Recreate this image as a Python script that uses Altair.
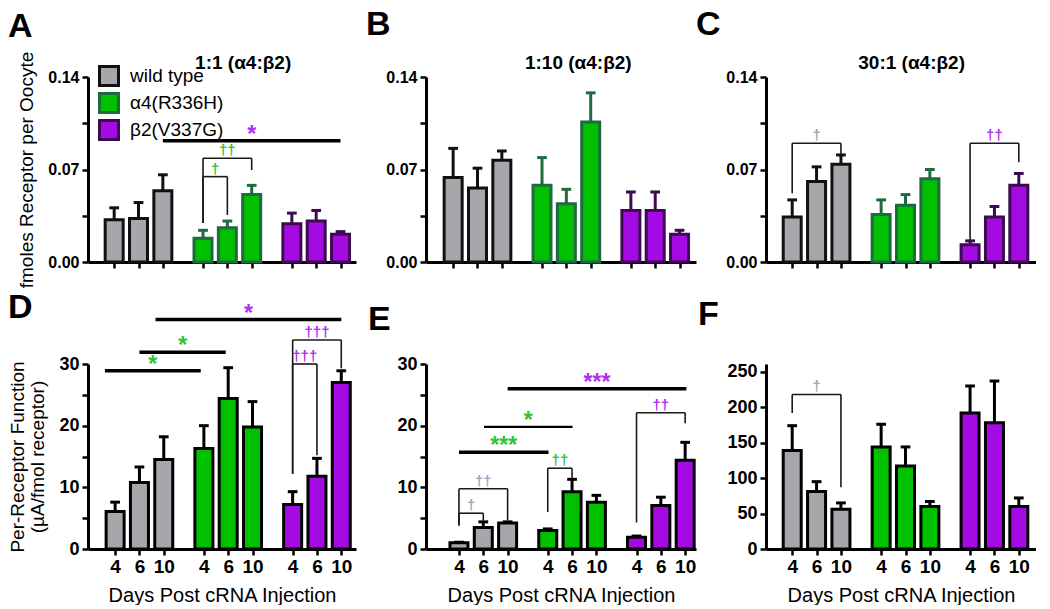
import altair as alt
import pandas as pd

FONT = "Liberation Sans"

genotypes = ["wild type", "α4(R336H)", "β2(V337G)"]
days = ["4", "6", "10"]

# means and SEM, order: wild type 4/6/10, α4(R336H) 4/6/10, β2(V337G) 4/6/10
A_mean = [0.032, 0.033, 0.054, 0.018, 0.026, 0.051, 0.029, 0.031, 0.021]
A_sem = [0.009, 0.012, 0.012, 0.006, 0.005, 0.007, 0.008, 0.008, 0.002]
B_mean = [0.064, 0.056, 0.077, 0.058, 0.044, 0.106, 0.039, 0.039, 0.021]
B_sem = [0.022, 0.015, 0.007, 0.021, 0.011, 0.022, 0.014, 0.014, 0.003]
C_mean = [0.034, 0.061, 0.074, 0.036, 0.043, 0.063, 0.013, 0.034, 0.058]
C_sem = [0.013, 0.011, 0.007, 0.011, 0.008, 0.007, 0.003, 0.008, 0.009]
D_mean = [6.1, 10.8, 14.5, 16.3, 24.4, 19.8, 7.2, 11.8, 27.0]
D_sem = [1.5, 2.5, 3.7, 3.7, 5.0, 4.1, 2.1, 2.9, 1.9]
E_mean = [1.0, 3.5, 4.2, 3.0, 9.3, 7.6, 1.9, 7.05, 14.4]
E_sem = [0.1, 0.9, 0.2, 0.25, 2.0, 1.1, 0.2, 1.35, 2.9]
F_mean = [139, 81, 56, 144, 117, 60, 192, 178, 60]
F_sem = [35, 14, 9, 32, 27, 7, 38, 59, 12]

ratio_titles = {"A": "1:1 (α4:β2)", "B": "1:10 (α4:β2)", "C": "30:1 (α4:β2)"}

# significance lines between groups (x in bar-slot units)
line_panel = ["A", "D", "D", "D", "E", "E", "E"]
line_from = [2.0, 1.66, 1.0, -0.42, 2.0, 1.03, 0.0]
line_to = [9.3, 9.3, 4.55, 3.52, 9.35, 4.67, 3.68]
line_level = [0.0918, 37.2, 31.9, 28.9, 26.0, 19.8, 15.7]
line_mark = ["*", "*", "*", "*", "***", "*", "***"]
line_tone = ["purple", "purple", "green", "green", "purple", "green", "green"]
line_weight = [3.5, 3.5, 3.5, 3.5, 3.5, 2.2, 3.5]

# within-genotype brackets
br_panel = ["A", "A", "C", "C", "D", "D", "E", "E", "E", "E", "F"]
br_from = [3.65, 3.65, 0, 7.3, 7.3, 7.3, 0, 0, 3.65, 7.3, 0]
br_to = [5.65, 4.65, 2, 9.3, 9.3, 8.3, 2, 1, 4.65, 9.3, 2]
br_level = [0.0785, 0.0646, 0.0899, 0.0899, 33.9, 30.0, 9.77, 5.8, 13.1, 22.1, 218]
br_left = [0.0295, 0.0295, 0.052, 0.0167, 12.2, 12.2, 3.8, 3.8, 6.0, 4.3, 192]
br_right = [0.0696, 0.0356, 0.0818, 0.0755, 29.3, 15.2, 4.6, 4.6, 11.5, 20.4, 87]
br_mark = ["††", "†", "†", "††", "†††", "†††", "††", "†", "††", "††", "†"]
br_tone = ["green", "green", "gray", "purple", "purple", "purple", "gray", "gray", "green", "purple", "gray"]

fill_colors = ["#a6a6ab", "#00c000", "#a40ae2"]
edge_colors = ["#111111", "#1d6b3f", "#3e0b52"]
tone_colors = {"gray": "#9ea6b8", "green": "#33c233", "purple": "#b02ef0"}

GAP = 3.65  # slot offset between genotype groups
SLOT = 25.27
HEIGHT = 185

series = {"A": (A_mean, A_sem), "B": (B_mean, B_sem), "C": (C_mean, C_sem),
          "D": (D_mean, D_sem), "E": (E_mean, E_sem), "F": (F_mean, F_sem)}

layout = {
    "A": dict(xdom=[-0.87, 9.73], ydom=[0, 0.14], letter=(-80, -7), ratio_x=5.3),
    "B": dict(xdom=[-0.91, 9.77], ydom=[0, 0.14], letter=(-60, -12), ratio_x=5.14),
    "C": dict(xdom=[-0.87, 9.8], ydom=[0, 0.14], letter=(-70, -12), ratio_x=4.9),
    "D": dict(xdom=[-0.91, 9.7], ydom=[0, 30], letter=(-80, 22)),
    "E": dict(xdom=[-1.15, 9.54], ydom=[0, 30], letter=(-58, -18)),
    "F": dict(xdom=[-0.87, 9.8], ydom=[0, 261], letter=(-68, -31)),
}

top_ticks = ([0, 0.035, 0.07, 0.105, 0.14], [0, 0.07, 0.14], ".2f")
mid_ticks = ([0, 5, 10, 15, 20, 25, 30], [0, 10, 20, 30], "d")
f_ticks = ([0, 50, 100, 150, 200, 250], [0, 50, 100, 150, 200, 250], "d")
tick_sets = {"A": top_ticks, "B": top_ticks, "C": top_ticks, "D": mid_ticks, "E": mid_ticks, "F": f_ticks}

positions = [g * GAP + d for g in range(3) for d in range(3)]
k = int(round(GAP * 100))
x_label_expr = (
    f"(round(datum.value*100) % {k}) == 0 ? '{days[0]}' : "
    f"((round(datum.value*100) % {k}) == 100 ? '{days[1]}' : '{days[2]}')"
)


def bars_df(means, sems):
    rows = []
    for g, gname in enumerate(genotypes):
        for d, dname in enumerate(days):
            i = g * 3 + d
            p = g * GAP + d
            rows.append({"pos": p, "cl": p - 0.2, "cr": p + 0.2, "genotype": gname, "day": dname,
                         "mean": means[i], "top": means[i] + sems[i]})
    return pd.DataFrame(rows)


legend = alt.Legend(orient="none", legendX=10, legendY=-12, title=None, symbolType="square",
                    symbolSize=361, symbolStrokeWidth=3, labelFontSize=19, labelFont=FONT,
                    labelColor="black", labelOffset=10, rowPadding=-8, padding=0)


def make_panel(key):
    cfg = layout[key]
    top_row = key in "ABC"
    means, sems = series[key]
    df = bars_df(means, sems)
    xdom = cfg["xdom"]
    width = round((xdom[1] - xdom[0]) * SLOT)
    xs = alt.Scale(domain=xdom, nice=False, zero=False)
    ys = alt.Scale(domain=cfg["ydom"], nice=False, zero=True)
    vals, major, fmt = tick_sets[key]
    y_label_expr = f"indexof({major}, datum.value) >= 0 ? format(datum.value, '{fmt}') : ''"
    if key == "A":
        ytitle = "fmoles Receptor per Oocyte"
    elif key == "D":
        ytitle = ["Per-Receptor Function", "(µA/fmol receptor)"]
    else:
        ytitle = None
    yaxis = alt.Axis(values=vals, labelExpr=y_label_expr, title=ytitle,
                     labelFontSize=16 if top_row else 18,
                     labelFontWeight="bold", labelPadding=3, titleFontSize=19,
                     titleFontWeight="normal", titlePadding=11, titleLineHeight=20)
    xaxis = alt.Axis(values=positions, labelExpr=x_label_expr, labels=not top_row,
                     title=None if top_row else "Days Post cRNA Injection",
                     labelFontSize=19, labelFontWeight="bold", labelPadding=2,
                     titleFontSize=20, titleFontWeight="normal", titlePadding=9)

    def X(f):
        return alt.X(f, scale=xs, axis=xaxis)

    def Y(f):
        return alt.Y(f, scale=ys, axis=yaxis)

    leg = legend if key == "A" else None
    fill = alt.Fill("genotype:N", scale=alt.Scale(domain=genotypes, range=fill_colors), legend=leg)
    if top_row:
        stroke = alt.Stroke("genotype:N", scale=alt.Scale(domain=genotypes, range=edge_colors), legend=leg)
    else:
        stroke = alt.value("black")

    base = alt.Chart(df)
    err = base.mark_rule(strokeWidth=3).encode(x=X("pos:Q"), y=Y("mean:Q"), y2="top:Q", stroke=stroke)
    cap = base.mark_rule(strokeWidth=3).encode(x=X("cl:Q"), x2="cr:Q", y=Y("top:Q"), stroke=stroke)
    bars = base.mark_bar(size=18, strokeWidth=3, orient="vertical").encode(
        x=X("pos:Q"), y=Y("mean:Q"), fill=fill, stroke=stroke)
    layers = [err, cap, bars]

    lrows = [dict(x1=line_from[i], x2=line_to[i], xm=(line_from[i] + line_to[i]) / 2, y=line_level[i],
                  t=line_mark[i], c=tone_colors[line_tone[i]], w=line_weight[i])
             for i in range(len(line_panel)) if line_panel[i] == key]
    if lrows:
        ldf = pd.DataFrame(lrows)
        layers.append(alt.Chart(ldf).mark_rule(color="black").encode(
            x=X("x1:Q"), x2="x2:Q", y=Y("y:Q"),
            strokeWidth=alt.StrokeWidth("w:Q", scale=None, legend=None)))
        layers.append(alt.Chart(ldf).mark_text(font=FONT, fontSize=23, fontWeight="bold",
                                               baseline="alphabetic", dy=1).encode(
            x=X("xm:Q"), y=Y("y:Q"), text="t:N",
            color=alt.Color("c:N", scale=None, legend=None)))

    segs, brl = [], []
    for i in range(len(br_panel)):
        if br_panel[i] != key:
            continue
        a, b, lv = br_from[i], br_to[i], br_level[i]
        segs.append(dict(x1=a, x2=a, y1=lv, y2=br_left[i]))
        segs.append(dict(x1=b, x2=b, y1=lv, y2=br_right[i]))
        segs.append(dict(x1=a, x2=b, y1=lv, y2=lv))
        brl.append(dict(xm=(a + b) / 2, y=lv, t=br_mark[i], c=tone_colors[br_tone[i]]))
    if segs:
        layers.append(alt.Chart(pd.DataFrame(segs)).mark_rule(color="#1a1a1a", strokeWidth=1.6).encode(
            x=X("x1:Q"), x2="x2:Q", y=Y("y1:Q"), y2="y2:Q"))
        layers.append(alt.Chart(pd.DataFrame(brl)).mark_text(font=FONT, fontSize=15, fontWeight="bold",
                                                             baseline="alphabetic", dy=-3).encode(
            x=X("xm:Q"), y=Y("y:Q"), text="t:N",
            color=alt.Color("c:N", scale=None, legend=None)))

    if key in ratio_titles:
        rdf = pd.DataFrame({"t": [ratio_titles[key]]})
        layers.append(alt.Chart(rdf).mark_text(font=FONT, fontSize=19, fontWeight="bold",
                                               baseline="middle", dy=-14, color="black").encode(
            x=alt.X(datum=cfg["ratio_x"], scale=xs, axis=xaxis),
            y=alt.Y(datum=cfg["ydom"][1], scale=ys, axis=yaxis),
            text="t:N"))

    ldx, ldy = cfg["letter"]
    return alt.layer(*layers).properties(
        width=width, height=HEIGHT,
        title=alt.TitleParams(key, anchor="start", frame="group", dx=ldx, dy=ldy, offset=0,
                              fontSize=34, font=FONT, fontWeight="bold", color="black"))


chart = (
    alt.concat(*[make_panel(k) for k in "ABCDEF"], columns=3,
               spacing={"row": 102, "column": 70}, bounds="flush")
    .resolve_scale(fill="independent", stroke="independent")
    .properties(padding=0, background="white")
    .configure_view(stroke=None)
    .configure_axis(domainColor="black", domainWidth=3, tickColor="black", tickWidth=2.5,
                    tickSize=6, labelColor="black", titleColor="black", labelFont=FONT,
                    titleFont=FONT, grid=False)
)

chart.save("out.html", embed_options={"renderer": "svg", "actions": False})
